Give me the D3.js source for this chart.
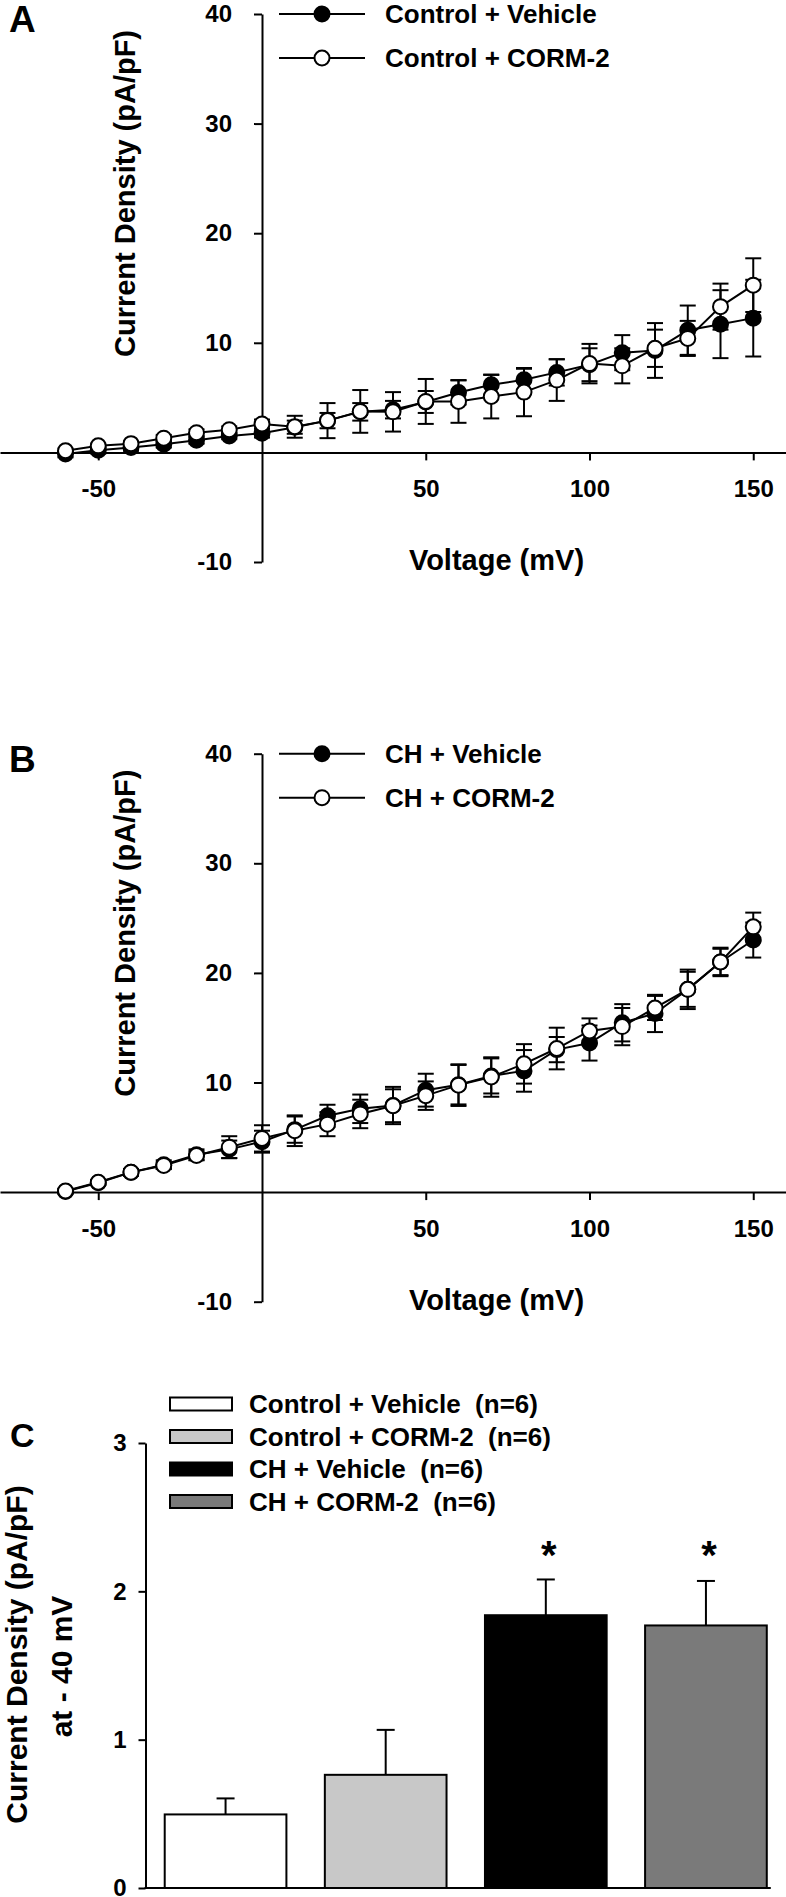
<!DOCTYPE html>
<html><head><meta charset="utf-8">
<script src="https://cdn.jsdelivr.net/npm/d3@7"></script>
<style>
body{margin:0;background:#fff}
svg{display:block}
text{font-family:"Liberation Sans",Arial,sans-serif;font-weight:bold;fill:#000}
</style>
</head><body><div id="chart"></div>
<script>
// ---------- DATA ----------
const voltages = [-60,-50,-40,-30,-20,-10,0,10,20,30,40,50,60,70,80,90,100,110,120,130,140,150];
const xTickValues = [-50,50,100,150];
const ivYTickValues = [-10,10,20,30,40];

// Panel A: Control
const ctrlVehicleMean = [-0.15,0.2,0.45,0.75,1.1,1.5,1.75,2.3,2.9,3.7,3.9,4.6,5.47,6.17,6.63,7.3,8.0,9.1,9.3,11.15,11.7,12.25];
const ctrlVehicleSem  = [0.3,0.3,0.3,0.3,0.3,0.3,0.4,0.6,0.7,0.8,0.8,1.0,1.1,0.9,1.0,1.2,1.5,1.6,2.5,2.25,3.1,3.5];
const ctrlCormMean    = [0.15,0.6,0.8,1.3,1.8,2.07,2.6,2.34,2.9,3.74,3.7,4.65,4.65,5.1,5.5,6.6,8.1,7.9,9.5,10.4,13.3,15.26];
const ctrlCormSem     = [0.2,0.2,0.2,0.3,0.3,0.3,0.4,1.0,1.6,1.95,1.8,2.05,1.95,2.0,2.2,1.9,1.8,1.6,1.7,1.6,2.1,2.45];

// Panel B: CH
const chVehicleMean = [0.05,0.85,1.8,2.5,3.4,3.9,4.6,5.7,6.97,7.6,7.9,9.3,9.8,10.6,11.06,13.0,13.6,15.45,16.3,18.5,21.0,23.0];
const chVehicleSem  = [0.2,0.2,0.3,0.4,0.5,0.8,1.0,1.2,1.0,1.3,1.7,1.5,1.8,1.6,1.9,1.15,1.6,1.7,1.7,1.6,1.2,1.6];
const chCormMean    = [0.1,0.9,1.82,2.43,3.34,4.1,4.9,5.6,6.2,7.13,7.88,8.8,9.76,10.5,11.7,13.1,14.7,15.1,16.8,18.5,21.0,24.2];
const chCormSem     = [0.2,0.2,0.3,0.3,0.4,1.0,1.2,1.4,1.1,1.3,1.5,1.3,1.9,1.8,1.8,1.9,1.15,1.7,1.1,1.8,1.3,1.3];

const legendA = ["Control + Vehicle", "Control + CORM-2"];
const legendB = ["CH + Vehicle", "CH + CORM-2"];

// Panel C: bar chart at -40 mV
const barGroups = ["Control + Vehicle  (n=6)", "Control + CORM-2  (n=6)", "CH + Vehicle  (n=6)", "CH + CORM-2  (n=6)"];
const barMeans = [0.496, 0.763, 1.839, 1.770];
const barSems  = [0.108, 0.303, 0.241, 0.300];
const barSignificant = [false, false, true, true];
const barYTickValues = [0,1,2,3];

// ---------- DRAWING ----------
const W = 786, H = 1897;
const svg = d3.select("#chart").append("svg").attr("width", W).attr("height", H);

function styleAxis(g, fs) {
  g.attr("font-family", null).attr("font-size", null);
  g.selectAll(".domain").attr("stroke", "#000").attr("stroke-width", 2);
  g.selectAll(".tick line").attr("stroke", "#000").attr("stroke-width", 2);
  g.selectAll(".tick text").style("font-size", fs + "px");
}

function drawIV(top, letter, means, sems, names) {
  const x = d3.scaleLinear().domain([-80, 160]).range([0, W]);
  const y = d3.scaleLinear().domain([-10, 40]).range([top + 562, top + 14]);
  const g = svg.append("g");

  const yAx = g.append("g").attr("transform", `translate(${x(0)},0)`)
    .call(d3.axisLeft(y).tickValues(ivYTickValues).tickSize(8).tickSizeOuter(0).tickPadding(22).tickFormat(d => String(d)));
  styleAxis(yAx, 24);
  const xAx = g.append("g").attr("transform", `translate(0,${y(0)})`)
    .call(d3.axisBottom(x).tickValues(xTickValues).tickSize(8).tickSizeOuter(0).tickPadding(20).tickFormat(d => String(d)));
  styleAxis(xAx, 24);

  const series = means.map((m, s) => voltages.map((v, i) => ({ v, m: m[i], e: sems[s][i] })));

  // error bars
  const cap = 8;
  series.forEach(data => {
    const eg = g.append("g").attr("stroke", "#000").attr("stroke-width", 2).attr("fill", "none");
    data.forEach(d => {
      const x0 = x(d.v), yl = y(d.m - d.e), yh = y(d.m + d.e);
      eg.append("line").attr("x1", x0).attr("x2", x0).attr("y1", yl).attr("y2", yh);
      eg.append("line").attr("x1", x0 - cap).attr("x2", x0 + cap).attr("y1", yl).attr("y2", yl);
      eg.append("line").attr("x1", x0 - cap).attr("x2", x0 + cap).attr("y1", yh).attr("y2", yh);
    });
  });
  // lines
  const line = d3.line().x(d => x(d.v)).y(d => y(d.m));
  series.forEach(data => {
    g.append("path").datum(data).attr("d", line).attr("fill", "none").attr("stroke", "#000").attr("stroke-width", 2);
  });
  // markers
  const fills = ["#000", "#fff"];
  series.forEach((data, s) => {
    g.append("g").selectAll("circle").data(data).join("circle")
      .attr("cx", d => x(d.v)).attr("cy", d => y(d.m)).attr("r", 7.5)
      .attr("fill", fills[s]).attr("stroke", "#000").attr("stroke-width", 2);
  });

  // legend
  names.forEach((n, i) => {
    const ly = y(40) + i * 44;
    g.append("line").attr("x1", 279).attr("x2", 365).attr("y1", ly).attr("y2", ly).attr("stroke", "#000").attr("stroke-width", 2);
    g.append("circle").attr("cx", 322).attr("cy", ly).attr("r", 7.5).attr("fill", fills[i]).attr("stroke", "#000").attr("stroke-width", 2);
    g.append("text").attr("x", 385).attr("y", ly).attr("dy", "0.35em").style("font-size", "26px").text(n);
  });

  // titles
  g.append("text").attr("x", 9).attr("y", top + 32).style("font-size", "37px").text(letter);
  g.append("text").attr("transform", `translate(135,${top + 193.5}) rotate(-90)`).attr("text-anchor", "middle")
    .style("font-size", "29px").text("Current Density (pA/pF)");
  g.append("text").attr("x", 496.5).attr("y", top + 570).attr("text-anchor", "middle")
    .style("font-size", "29px").text("Voltage (mV)");
}

drawIV(0, "A", [ctrlVehicleMean, ctrlCormMean], [ctrlVehicleSem, ctrlCormSem], legendA);
drawIV(739.7, "B", [chVehicleMean, chCormMean], [chVehicleSem, chCormSem], legendB);

// Panel C
(function () {
  const g = svg.append("g");
  const axX = 145.5;
  const x = d3.scaleBand().domain(barGroups).range([axX, W]).paddingInner(0.24).paddingOuter(0.12);
  const y = d3.scaleLinear().domain([0, 3]).range([1888, 1443]);
  const color = d3.scaleOrdinal().domain(barGroups).range(["#ffffff", "#c8c8c8", "#000000", "#7a7a7a"]);
  const data = barGroups.map((k, i) => ({ k, m: barMeans[i], e: barSems[i], sig: barSignificant[i] }));

  // error bars (upper only)
  const eg = g.append("g").attr("stroke", "#000").attr("stroke-width", 2);
  data.forEach(d => {
    const cx = x(d.k) + x.bandwidth() / 2;
    eg.append("line").attr("x1", cx).attr("x2", cx).attr("y1", y(d.m)).attr("y2", y(d.m + d.e));
    eg.append("line").attr("x1", cx - 9).attr("x2", cx + 9).attr("y1", y(d.m + d.e)).attr("y2", y(d.m + d.e));
  });
  g.append("g").selectAll("rect").data(data).join("rect")
    .attr("x", d => x(d.k)).attr("y", d => y(d.m)).attr("width", x.bandwidth()).attr("height", d => y(0) - y(d.m))
    .attr("fill", d => color(d.k)).attr("stroke", "#000").attr("stroke-width", 2);

  // asterisks
  g.append("g").selectAll("text").data(data.filter(d => d.sig)).join("text")
    .attr("x", d => x(d.k) + x.bandwidth() / 2 + 3).attr("y", 1569).attr("text-anchor", "middle")
    .style("font-size", "40px").text("*");

  // axes
  const yAx = g.append("g").attr("transform", `translate(${axX},0)`)
    .call(d3.axisLeft(y).tickValues(barYTickValues).tickSize(7).tickSizeOuter(0).tickPadding(12).tickFormat(d => String(d)));
  styleAxis(yAx, 24);
  const last = barGroups[barGroups.length - 1];
  g.append("line").attr("x1", axX - 1).attr("x2", x(last) + x.bandwidth() + 4).attr("y1", y(0)).attr("y2", y(0))
    .attr("stroke", "#000").attr("stroke-width", 2);

  // legend
  barGroups.forEach((k, i) => {
    const ly = 1404 + i * 32.5;
    g.append("rect").attr("x", 170).attr("y", ly - 6.5).attr("width", 62).attr("height", 13)
      .attr("fill", color(k)).attr("stroke", "#000").attr("stroke-width", 2);
    g.append("text").attr("x", 249).attr("y", ly).attr("dy", "0.35em").style("font-size", "26px")
      .style("white-space", "pre").text(k);
  });

  // titles
  g.append("text").attr("x", 10).attr("y", 1447).style("font-size", "34px").text("C");
  g.append("text").attr("transform", "translate(27,1654.5) rotate(-90)").attr("text-anchor", "middle")
    .style("font-size", "30px").text("Current Density (pA/pF)");
  g.append("text").attr("transform", "translate(72,1666.5) rotate(-90)").attr("text-anchor", "middle")
    .style("font-size", "30px").text("at - 40 mV");
})();
</script>
</body></html>
